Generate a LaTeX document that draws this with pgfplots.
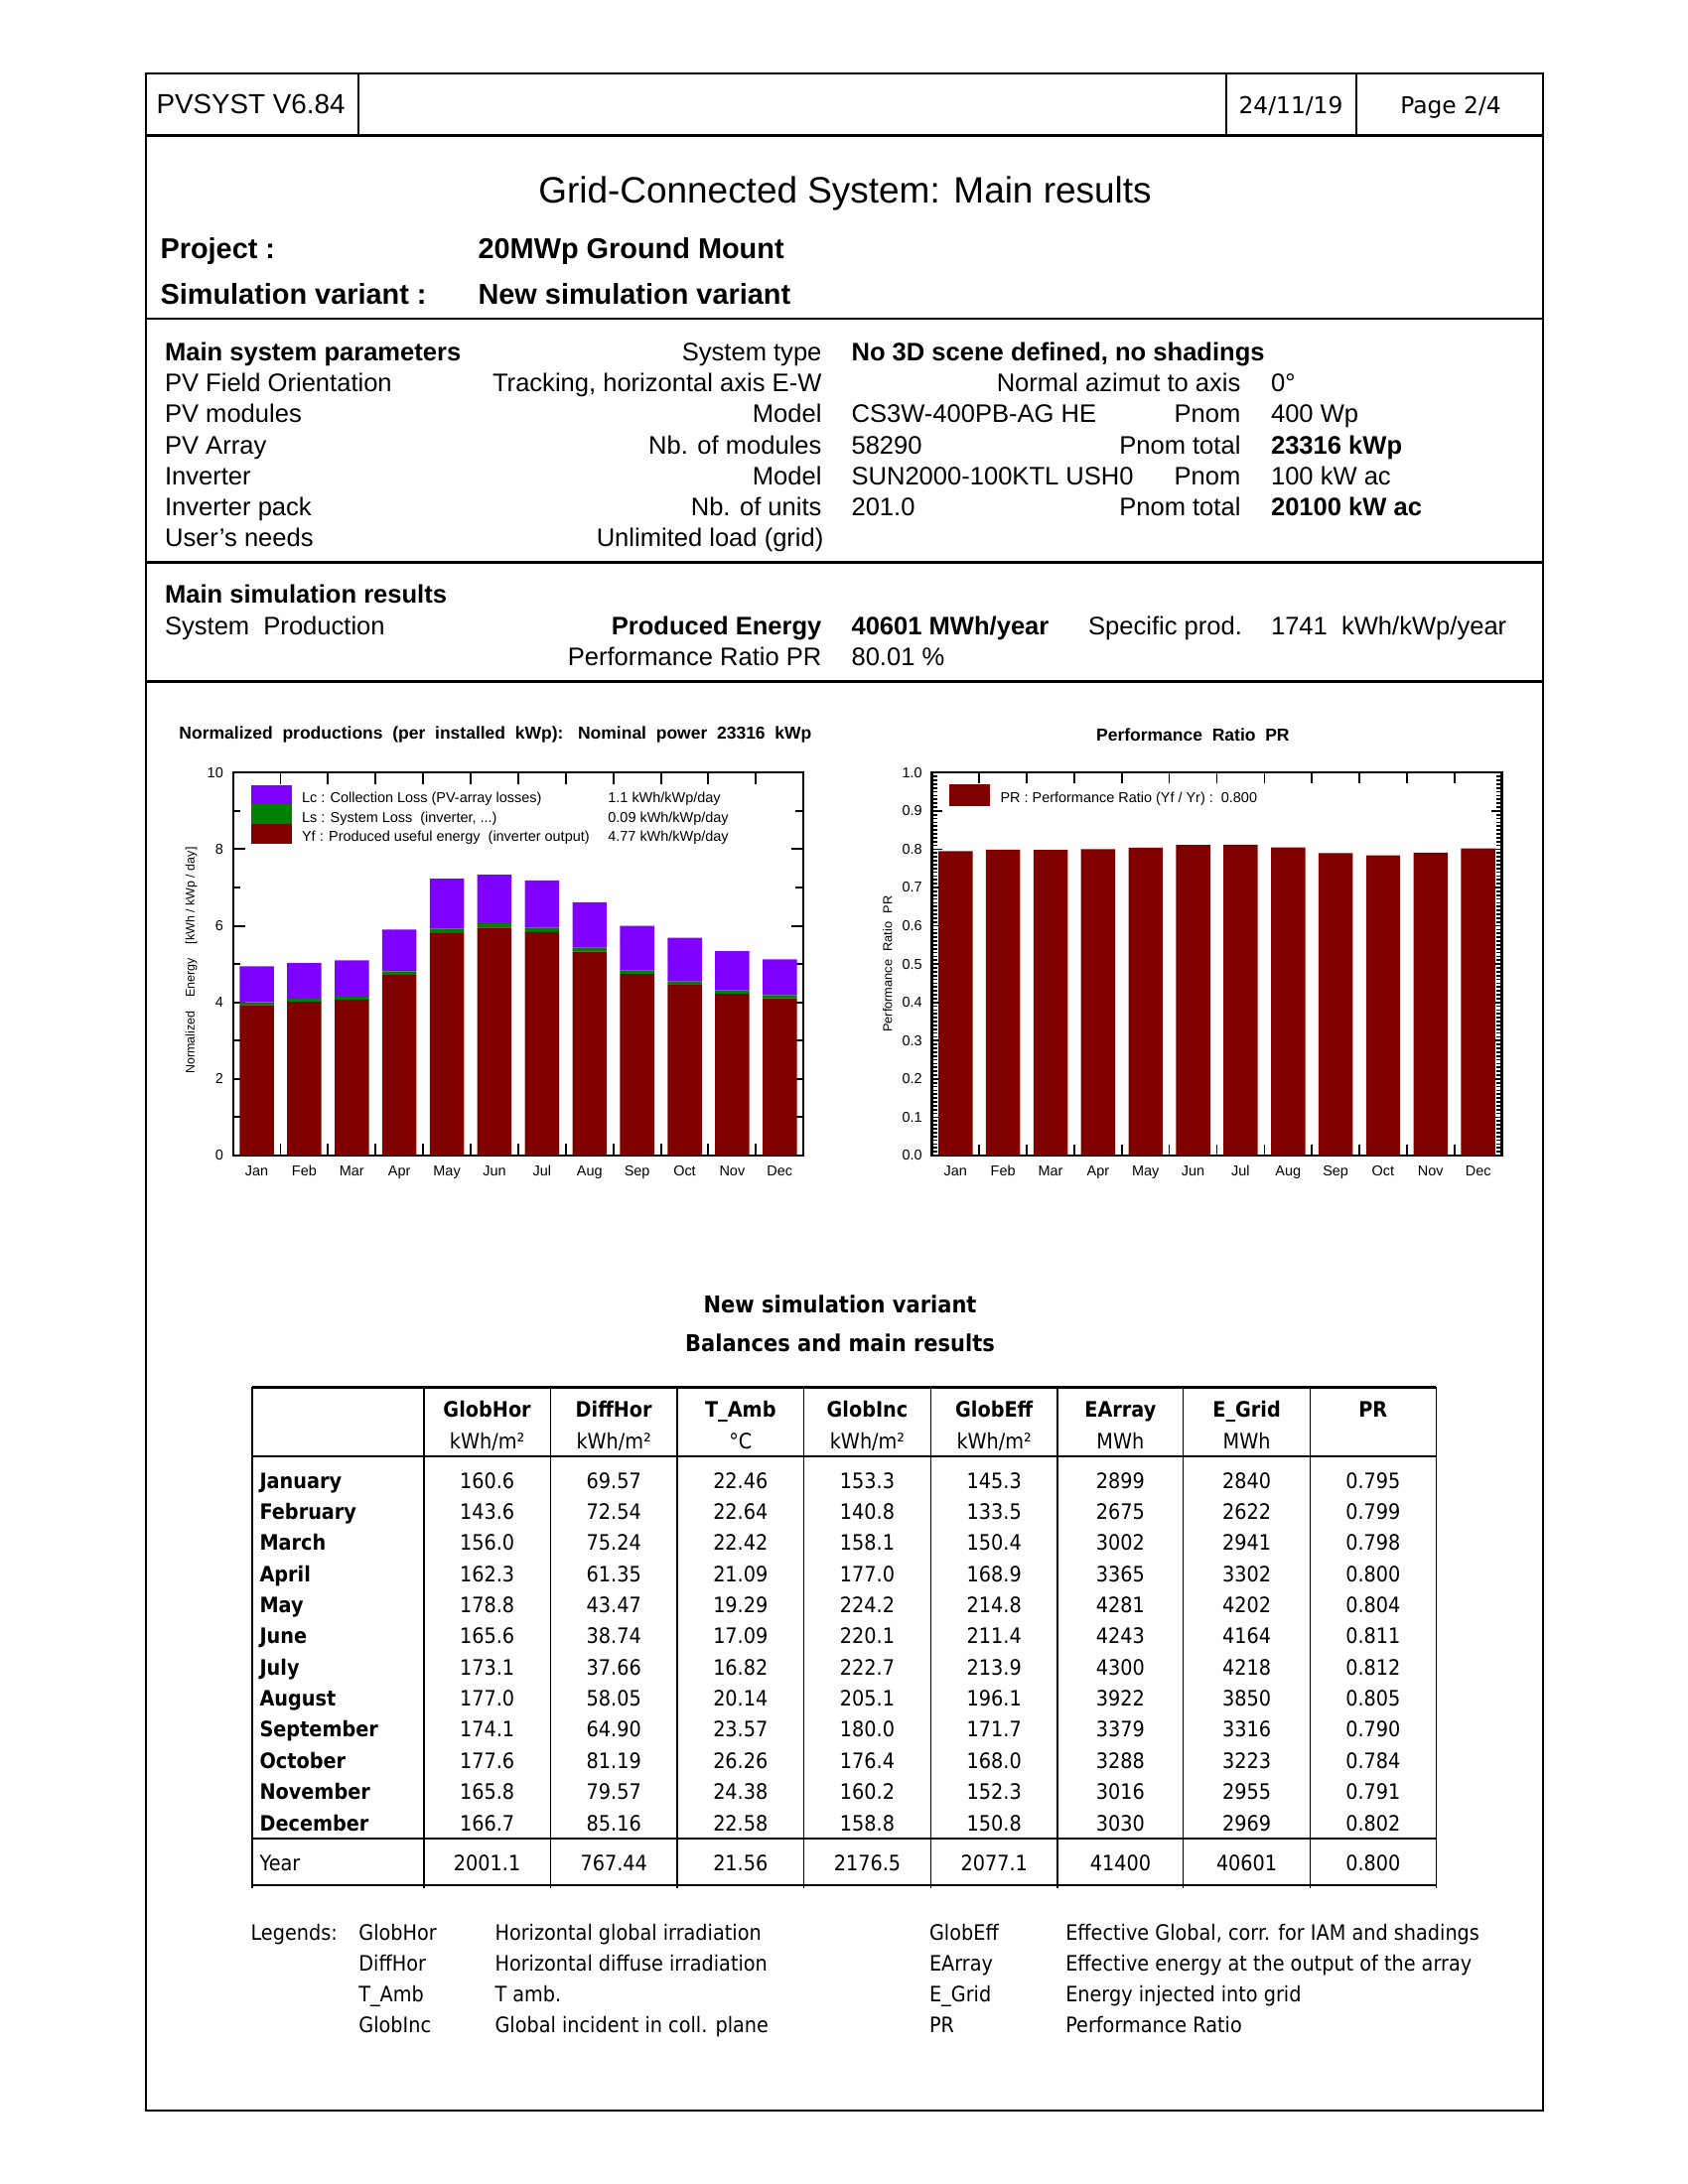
\documentclass[border=0pt]{standalone}
\usepackage{fontspec}
\setmainfont{Liberation Sans}
\newfontfamily\tah{DejaVu Sans}[FakeStretch=0.9]
\newfontfamily\dvs{DejaVu Sans}
\usepackage{pgfplots}
\usepackage{pgfplotstable}
\pgfplotsset{compat=1.18}
\definecolor{lcv}{HTML}{8000FF}
\definecolor{lsg}{HTML}{008000}
\definecolor{yfr}{HTML}{800000}
\newcommand{\fs}[1]{\fontsize{#1}{#1}\selectfont}

\pgfplotstableread{
m Yf Ls Lc PR
1 3.929 0.082 0.934 0.795
2 4.016 0.081 0.931 0.799
3 4.069 0.084 0.947 0.798
4 4.721 0.090 1.089 0.800
5 5.814 0.109 1.309 0.804
6 5.953 0.113 1.271 0.811
7 5.836 0.113 1.235 0.812
8 5.327 0.100 1.190 0.805
9 4.741 0.090 1.169 0.790
10 4.459 0.090 1.141 0.784
11 4.225 0.087 1.028 0.791
12 4.108 0.084 0.931 0.802
}\datatable

\begin{document}
\begin{tikzpicture}
\begin{scope}[x=0.36pt,y=-0.36pt]
\path (0,0) rectangle (1700,2200);
% frame
\draw[line width=0.9pt] (147,74) rectangle (1554,2126);
\draw[line width=0.9pt] (147,136.7) -- (1554,136.7);
\draw[line width=0.6pt] (360.7,74) -- (360.7,136.7);
\draw[line width=0.6pt] (1234.7,74) -- (1234.7,136.7);
\draw[line width=0.6pt] (1365.7,74) -- (1365.7,136.7);
\draw[line width=1pt] (147,321) -- (1554,321);
\draw[line width=1pt] (147,566.7) -- (1554,566.7);
\draw[line width=1pt] (147,686.7) -- (1554,686.7);
% header
\node[anchor=mid west,inner sep=0pt,font=\fs{10}] at (157,107.5) {PVSYST V6.84};
\node[inner sep=0pt,font=\dvs\fs{8.4},anchor=mid] at (1300,107.5) {24/11/19};
\node[inner sep=0pt,font=\dvs\fs{8.4},anchor=mid] at (1461,107.5) {Page 2/4};
\node[inner sep=0pt,font=\fs{13.3},anchor=mid] at (851,197) {Grid-Connected System: Main results};
\node[anchor=mid west,inner sep=0pt,font=\bfseries\fs{10.4}] at (161,253) {Project :};
\node[anchor=mid west,inner sep=0pt,font=\bfseries\fs{10.4}] at (481,253) {20MWp Ground Mount};
\node[anchor=mid west,inner sep=0pt,font=\bfseries\fs{10.4}] at (161,299) {Simulation variant :};
\node[anchor=mid west,inner sep=0pt,font=\bfseries\fs{10.4}] at (481,299) {New simulation variant};
% parameters
\begin{scope}[every node/.style={inner sep=0pt,font=\fs{9.2}}]
\node[anchor=mid west,font=\bfseries\fs{9.2}] at (165.5,356) {Main system parameters};
\node[anchor=mid east] at (828,356) {System type};
\node[anchor=mid west,font=\bfseries\fs{9.2}] at (857,356) {No 3D scene defined, no shadings};
\node[anchor=mid west] at (165.5,386.7) {PV Field Orientation};
\node[anchor=mid east] at (828,386.7) {Tracking, horizontal axis E-W};
\node[anchor=mid east] at (1250,386.7) {Normal azimut to axis};
\node[anchor=mid west] at (1279.5,386.7) {0°};
\node[anchor=mid west] at (165.5,418.3) {PV modules};
\node[anchor=mid east] at (828,418.3) {Model};
\node[anchor=mid west] at (857,418.3) {CS3W-400PB-AG HE};
\node[anchor=mid east] at (1250,418.3) {Pnom};
\node[anchor=mid west] at (1279.5,418.3) {400 Wp};
\node[anchor=mid west] at (165.5,450) {PV Array};
\node[anchor=mid east] at (828,450) {Nb. of modules};
\node[anchor=mid west] at (857,450) {58290};
\node[anchor=mid east] at (1250,450) {Pnom total};
\node[anchor=mid west,font=\bfseries\fs{9.2}] at (1279.5,450) {23316 kWp};
\node[anchor=mid west] at (165.5,481) {Inverter};
\node[anchor=mid east] at (828,481) {Model};
\node[anchor=mid west] at (857,481) {SUN2000-100KTL USH0};
\node[anchor=mid east] at (1250,481) {Pnom};
\node[anchor=mid west] at (1279.5,481) {100 kW ac};
\node[anchor=mid west] at (165.5,512) {Inverter pack};
\node[anchor=mid east] at (828,512) {Nb. of units};
\node[anchor=mid west] at (857,512) {201.0};
\node[anchor=mid east] at (1250,512) {Pnom total};
\node[anchor=mid west,font=\bfseries\fs{9.2}] at (1279.5,512) {20100 kW ac};
\node[anchor=mid west] at (165.5,543.3) {User\char39 s needs};
\node[anchor=mid east] at (830,543.3) {Unlimited load (grid)};
% results
\node[anchor=mid west,font=\bfseries\fs{9.2}] at (165.5,600.5) {Main simulation results};
\node[anchor=mid west] at (165.5,632.5) {System\ \ Production};
\node[anchor=mid east,font=\bfseries\fs{9.2}] at (828,632.5) {Produced Energy};
\node[anchor=mid west,font=\bfseries\fs{9.2}] at (857,632.5) {40601 MWh/year};
\node[anchor=mid west] at (1095.6,632.5) {Specific prod.};
\node[anchor=mid west] at (1279.5,632.5) {1741\ \ kWh/kWp/year};
\node[anchor=mid east] at (828,663.5) {Performance Ratio PR};
\node[anchor=mid west] at (857,663.5) {80.01 \%};
\end{scope}
% table
\node[inner sep=0pt,font=\tah\bfseries\fs{8.4},anchor=mid] at (846,1315) {New simulation variant};
\node[inner sep=0pt,font=\tah\bfseries\fs{8.4},anchor=mid] at (846,1354) {Balances and main results};
\draw[line width=1pt] (254,1397.3) -- (1446.2,1397.3);
\draw[line width=0.6pt] (254,1467.3) -- (1446.2,1467.3);
\draw[line width=0.8pt] (254,1851.7) -- (1446.2,1851.7);
\draw[line width=1pt] (254,1899) -- (1446.2,1899);
\foreach \xx in {254,426.8,554.4,682,809.6,937.3,1065,1191.7,1319.4,1446.2}
  \draw[line width=0.5pt] (\xx,1397.3) -- (\xx,1902);
\begin{scope}[every node/.style={inner sep=0pt,anchor=mid,font=\tah\fs{7.7}}]
\foreach \xx/\hh/\uu in {490.6/GlobHor/{kWh/m²},618.2/DiffHor/{kWh/m²},745.8/T\_Amb/°C,873.5/GlobInc/{kWh/m²},1001.2/GlobEff/{kWh/m²},1128.4/EArray/MWh,1255.6/E\_Grid/MWh,1382.8/PR/{}}
{
  \node[font=\tah\bfseries\fs{7.7}] at (\xx,1420) {\hh};
  \node at (\xx,1452.3) {\uu};
}
\foreach \nm/\a/\b/\c/\d/\e/\f/\g/\h [count=\i from 0] in {
January/160.6/69.57/22.46/153.3/145.3/2899/2840/0.795,
February/143.6/72.54/22.64/140.8/133.5/2675/2622/0.799,
March/156.0/75.24/22.42/158.1/150.4/3002/2941/0.798,
April/162.3/61.35/21.09/177.0/168.9/3365/3302/0.800,
May/178.8/43.47/19.29/224.2/214.8/4281/4202/0.804,
June/165.6/38.74/17.09/220.1/211.4/4243/4164/0.811,
July/173.1/37.66/16.82/222.7/213.9/4300/4218/0.812,
August/177.0/58.05/20.14/205.1/196.1/3922/3850/0.805,
September/174.1/64.90/23.57/180.0/171.7/3379/3316/0.790,
October/177.6/81.19/26.26/176.4/168.0/3288/3223/0.784,
November/165.8/79.57/24.38/160.2/152.3/3016/2955/0.791,
December/166.7/85.16/22.58/158.8/150.8/3030/2969/0.802}
{
  \pgfmathsetmacro\yy{1491.7+31.36*\i}
  \node[anchor=mid west,font=\tah\bfseries\fs{7.7}] at (261,\yy) {\nm};
  \node at (490.6,\yy) {\a};
  \node at (618.2,\yy) {\b};
  \node at (745.8,\yy) {\c};
  \node at (873.5,\yy) {\d};
  \node at (1001.2,\yy) {\e};
  \node at (1128.4,\yy) {\f};
  \node at (1255.6,\yy) {\g};
  \node at (1382.8,\yy) {\h};
}
\node[anchor=mid west] at (261,1876.7) {Year};
\foreach \xx/\v in {490.6/2001.1,618.2/767.44,745.8/21.56,873.5/2176.5,1001.2/2077.1,1128.4/41400,1255.6/40601,1382.8/0.800}
  \node at (\xx,1876.7) {\v};
% legends
\node[anchor=mid west] at (252,1946.7) {Legends:};
\foreach \k/\d/\kk/\dd [count=\i from 0] in {
GlobHor/Horizontal global irradiation/GlobEff/{Effective Global, corr. for IAM and shadings},
DiffHor/Horizontal diffuse irradiation/EArray/Effective energy at the output of the array,
T\_Amb/T amb./E\_Grid/Energy injected into grid,
GlobInc/Global incident in coll. plane/PR/Performance Ratio}
{
  \pgfmathsetmacro\yy{1946.7+31.1*\i}
  \node[anchor=mid west] at (360.8,\yy) {\k};
  \node[anchor=mid west] at (498,\yy) {\d};
  \node[anchor=mid west] at (935.5,\yy) {\kk};
  \node[anchor=mid west] at (1072.7,\yy) {\dd};
}
\end{scope}
\end{scope}

% ---------- Left chart ----------
\begin{axis}[
  at={(84.46pt,-419.04pt)}, anchor=south west,
  scale only axis, width=206.86pt, height=138.85pt,
  xmin=0.5, xmax=12.5, ymin=0, ymax=10,
  ybar stacked, bar width=0.72,
  axis line style={line width=0.8pt},
  tick align=inside,
  xtick={0.5,1.5,...,12.5},
  xticklabels={Jan,Feb,Mar,Apr,May,Jun,Jul,Aug,Sep,Oct,Nov,Dec},
  x tick label as interval,
  xticklabel style={text height=3.8pt, text depth=1.2pt},
  ytick={0,2,4,6,8,10},
  minor ytick={1,3,5,7,9},
  major tick length=4.3pt, minor tick length=2.8pt,
  tick style={black, line width=0.7pt},
  /pgf/number format/assume math mode=true,
  tick label style={font=\fs{5.2}},
  title={Normalized\ \ productions\ \ (per\ \ installed\ \ kWp):\ \ \ Nominal\ \ power\ \ 23316\ \ kWp},
  title style={font=\bfseries\fs{6.3}, at={(axis description cs:0.46,1.055)}, anchor=center, inner sep=0pt},
  ylabel={Normalized\hspace{5pt}Energy\hspace{5pt}[kWh / kWp / day]},
  ylabel style={font=\fs{4.5}, at={(axis description cs:-0.073,0.509)}, anchor=center, inner sep=0pt},
  reverse legend,
  legend cell align=left,
  legend image code/.code={\fill[#1] (0pt,-2.2pt) rectangle (14.8pt,5pt);},
  legend style={at={(0.032,0.967)}, anchor=north west, draw=none, fill=none,
    inner sep=0pt, outer sep=0pt, row sep=-1.6pt, column sep=3.6pt, font=\fs{5.2},
    nodes={inner sep=0pt, text height=5pt, text depth=2.2pt}},
]
\addplot[fill=yfr, draw=none] table[x=m,y=Yf]{\datatable};
\addlegendentry{\makebox[111pt][l]{Yf : Produced useful energy\ \ (inverter output)}4.77 kWh/kWp/day}
\addplot[fill=lsg, draw=none] table[x=m,y=Ls]{\datatable};
\addlegendentry{\makebox[111pt][l]{Ls : System Loss\ \ (inverter, ...)}0.09 kWh/kWp/day}
\addplot[fill=lcv, draw=none] table[x=m,y=Lc]{\datatable};
\addlegendentry{\makebox[111pt][l]{Lc : Collection Loss (PV-array losses)}1.1 kWh/kWp/day}
\end{axis}

% ---------- Right chart ----------
\begin{axis}[
  at={(337.82pt,-419.04pt)}, anchor=south west,
  scale only axis, width=206.71pt, height=138.85pt,
  xmin=0.5, xmax=12.5, ymin=0, ymax=1,
  ybar, bar width=0.72,
  axis line style={line width=0.8pt},
  tick align=inside,
  xtick={0.5,1.5,...,12.5},
  xticklabels={Jan,Feb,Mar,Apr,May,Jun,Jul,Aug,Sep,Oct,Nov,Dec},
  x tick label as interval,
  xticklabel style={text height=3.8pt, text depth=1.2pt},
  ytick={0,0.1,0.2,0.3,0.4,0.5,0.6,0.7,0.8,0.9,1.0},
  yticklabels={0.0,0.1,0.2,0.3,0.4,0.5,0.6,0.7,0.8,0.9,1.0},
  minor y tick num=9,
  major tick length=3.8pt, minor tick length=2pt,
  tick style={black, line width=0.6pt},
  /pgf/number format/assume math mode=true,
  tick label style={font=\fs{5.2}},
  title={Performance\ \ Ratio\ \ PR},
  title style={font=\bfseries\fs{6.3}, at={(axis description cs:0.458,1.055)}, anchor=center, inner sep=0pt},
  ylabel={Performance\hspace{3pt}Ratio\hspace{3pt}PR},
  ylabel style={font=\fs{4.6}, at={(axis description cs:-0.0775,0.5)}, anchor=center, inner sep=0pt},
  legend cell align=left,
  legend image code/.code={\fill[#1] (0pt,-2.3pt) rectangle (15pt,5.6pt);},
  legend style={at={(0.030,0.969)}, anchor=north west, draw=none, fill=none,
    inner sep=0pt, outer sep=0pt, row sep=0pt, column sep=3.7pt, font=\fs{5.2},
    nodes={inner sep=0pt}},
]
\addplot[fill=yfr, draw=none] table[x=m,y=PR]{\datatable};
\addlegendentry{PR : Performance Ratio (Yf / Yr) :\ \ 0.800}
\end{axis}
\end{tikzpicture}
\end{document}
